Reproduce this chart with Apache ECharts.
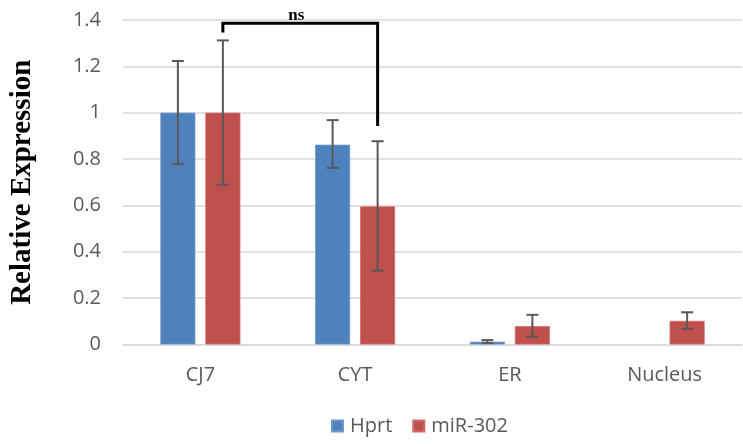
<!DOCTYPE html>
<html>
<head>
<meta charset="utf-8">
<script src="https://cdn.jsdelivr.net/npm/echarts@6/dist/echarts.min.js"></script>
<style>
html,body{margin:0;padding:0;background:#fff;}
#chart{width:743px;height:444px;}
</style>
</head>
<body>
<div id="chart"></div>
<script>
// ---- data ----
var categories = ['CJ7', 'CYT', 'ER', 'Nucleus'];
var hprtValues = [1.0, 0.862, 0.012, null];
var hprtErrLow = [0.778, 0.762, 0.006, null];
var hprtErrHigh = [1.223, 0.968, 0.019, null];
var mirValues = [1.0, 0.596, 0.079, 0.102];
var mirErrLow = [0.689, 0.319, 0.034, 0.067];
var mirErrHigh = [1.312, 0.877, 0.128, 0.139];
var yTicks = [0, 0.2, 0.4, 0.6, 0.8, 1, 1.2, 1.4];
// significance bracket: from miR-302 CJ7 to miR-302 CYT
var bracket = [[0, 1, 1.346, 1.386, 0.943]];
var bracketLabel = 'ns';

// ---- styles ----
var BAR_W = 35, BAR_GAP = 10;
var OFFSET = (BAR_W + BAR_GAP) / 2;
var BLUE = '#4F81BD', RED = '#C0504D';
var ERR_COLOR = '#595959';
var SANS = 'Open Sans';

function errData(lo, hi) {
  var d = [];
  for (var i = 0; i < categories.length; i++) {
    if (lo[i] != null) d.push([i, lo[i], hi[i]]);
  }
  return d;
}

function errRender(off) {
  return function (params, api) {
    var c = api.value(0);
    var p1 = api.coord([c, api.value(1)]);
    var p2 = api.coord([c, api.value(2)]);
    var x = p1[0] + off;
    var cap = 6;
    var st = { stroke: ERR_COLOR, lineWidth: 2 };
    return {
      type: 'group',
      children: [
        { type: 'line', shape: { x1: x, y1: p1[1], x2: x, y2: p2[1] }, style: st },
        { type: 'line', shape: { x1: x - cap, y1: p1[1], x2: x + cap, y2: p1[1] }, style: st },
        { type: 'line', shape: { x1: x - cap, y1: p2[1], x2: x + cap, y2: p2[1] }, style: st }
      ]
    };
  };
}

var chart = echarts.init(document.getElementById('chart'));
chart.setOption({
  animation: false,
  backgroundColor: '#fff',
  textStyle: { fontFamily: SANS },
  grid: { left: 122, right: 1, top: 20, bottom: 99.5, containLabel: false },
  legend: {
    top: 411,
    left: 326,
    itemWidth: 11,
    itemHeight: 11,
    itemGap: 20,
    icon: 'rect',
    textStyle: { color: '#595959', fontSize: 20, fontFamily: SANS, padding: [0, 0, 0, 2] },
    data: ['Hprt', 'miR-302']
  },
  xAxis: {
    type: 'category',
    data: categories,
    axisLine: { show: true, lineStyle: { color: '#d9d9d9', width: 1.5 } },
    axisTick: { show: false },
    axisLabel: { color: '#595959', fontSize: 20, margin: 21, fontFamily: SANS }
  },
  yAxis: {
    type: 'value',
    min: yTicks[0],
    max: yTicks[yTicks.length - 1],
    interval: 0.2,
    name: 'Relative Expression',
    nameLocation: 'middle',
    nameGap: 86,
    nameTextStyle: { fontFamily: 'Liberation Serif', fontWeight: 'bold', fontSize: 29, color: '#000' },
    axisLine: { show: false },
    axisTick: { show: false },
    axisLabel: { color: '#595959', fontSize: 20, margin: 22, fontFamily: SANS },
    splitLine: { lineStyle: { color: '#d9d9d9', width: 1.5 } }
  },
  series: [
    {
      name: 'Hprt', type: 'bar', data: hprtValues, barWidth: BAR_W,
      barGap: (BAR_GAP / BAR_W * 100) + '%',
      itemStyle: { color: BLUE, borderColor: '#6d97cc', borderWidth: 0.8 }
    },
    {
      name: 'miR-302', type: 'bar', data: mirValues, barWidth: BAR_W,
      barGap: (BAR_GAP / BAR_W * 100) + '%',
      itemStyle: { color: RED, borderColor: '#d46a67', borderWidth: 0.8 }
    },
    {
      type: 'custom', name: 'errH', data: errData(hprtErrLow, hprtErrHigh),
      renderItem: errRender(-OFFSET), z: 5, silent: true,
      encode: { x: 0, y: [1, 2] }
    },
    {
      type: 'custom', name: 'errM', data: errData(mirErrLow, mirErrHigh),
      renderItem: errRender(OFFSET), z: 5, silent: true,
      encode: { x: 0, y: [1, 2] }
    },
    {
      type: 'custom', name: 'bracket', data: bracket, z: 6, silent: true, clip: false,
      encode: { x: [0, 1], y: [2, 3, 4] },
      renderItem: function (params, api) {
        var a = api.coord([api.value(0), api.value(2)]);
        var t = api.coord([api.value(0), api.value(3)]);
        var b = api.coord([api.value(1), api.value(4)]);
        var x1 = a[0] + OFFSET, x2 = b[0] + OFFSET;
        return {
          type: 'group',
          children: [
            { type: 'polyline', shape: { points: [[x1, a[1]], [x1, t[1]], [x2, t[1]], [x2, b[1]]] },
              style: { stroke: '#000', lineWidth: 3, fill: null } },
            { type: 'text', x: (x1 + x2) / 2 - 4, y: t[1] + 1,
              style: { text: bracketLabel, fill: '#000', font: 'bold 17px "Liberation Serif"',
                       textAlign: 'center', textVerticalAlign: 'bottom' } }
          ]
        };
      }
    }
  ]
});
</script>
</body>
</html>
